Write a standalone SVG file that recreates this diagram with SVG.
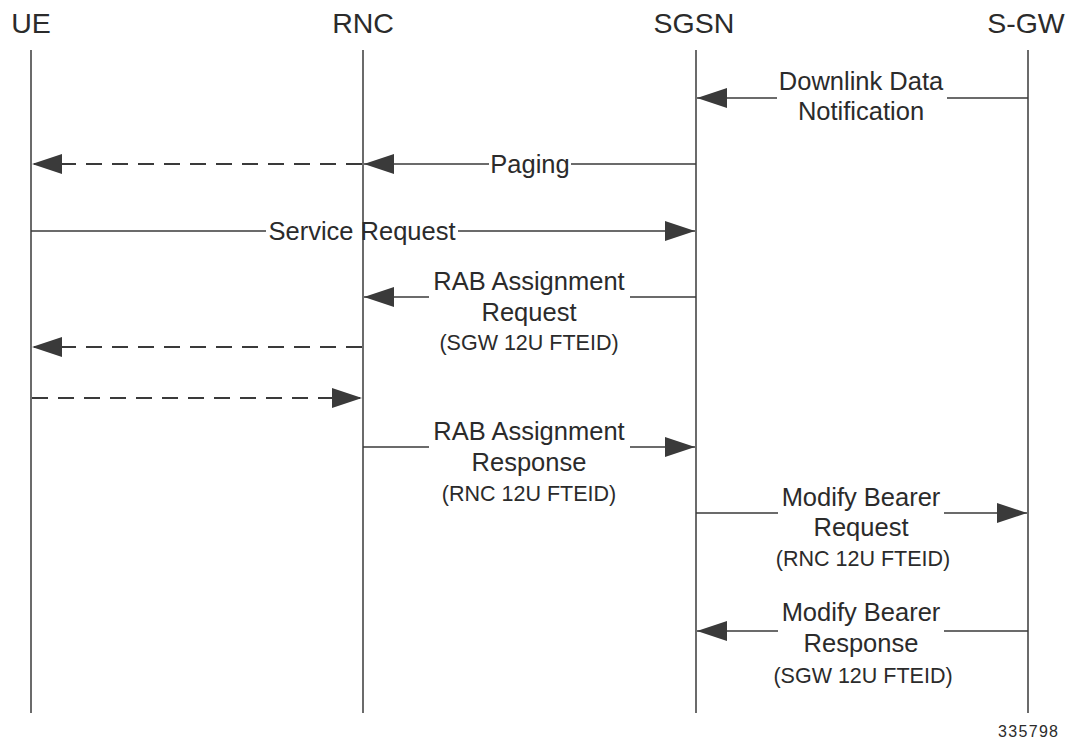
<svg xmlns="http://www.w3.org/2000/svg" width="1077" height="744" viewBox="0 0 1077 744">
<style>
.hdr{font-family:"Liberation Sans",Arial,sans-serif;font-size:28.5px;fill:#2b2b2b;text-anchor:middle}
.lbl{font-family:"Liberation Sans",Arial,sans-serif;font-size:25.5px;fill:#2b2b2b;text-anchor:middle}
.sm{font-family:"Liberation Sans",Arial,sans-serif;font-size:21.5px;fill:#2b2b2b;text-anchor:middle}
.life{stroke:#3a3a3a;stroke-width:1.5;fill:none}
.msg{stroke:#3a3a3a;stroke-width:1.5;fill:none}
.dash{stroke:#3a3a3a;stroke-width:1.8;fill:none;stroke-dasharray:16 10}
.arr{marker-end:url(#ah)}
</style>
<defs>
<marker id="ah" markerUnits="userSpaceOnUse" markerWidth="32" markerHeight="22" refX="31" refY="11" orient="auto">
<path d="M1,1 L31,11 L1,21 z" fill="#3a3a3a"/>
</marker>
</defs>
<rect width="1077" height="744" fill="#ffffff"/>
<g id="ue"><text class="hdr" x="31" y="33">UE</text><line class="life" x1="31" y1="50" x2="31" y2="713"/></g>
<g id="rnc"><text class="hdr" x="363" y="33">RNC</text><line class="life" x1="363" y1="50" x2="363" y2="713"/></g>
<g id="sgsn"><text class="hdr" x="694" y="33">SGSN</text><line class="life" x1="696" y1="50" x2="696" y2="713"/></g>
<g id="sgw"><text class="hdr" x="1026" y="33">S-GW</text><line class="life" x1="1028" y1="50" x2="1028" y2="713"/></g>
<g id="connectors">
<line class="msg" x1="1028" y1="98" x2="947" y2="98"/>
<line class="msg arr" x1="777" y1="98" x2="697" y2="98"/>
<text class="lbl" x="861" y="90">Downlink Data</text>
<text class="lbl" x="861" y="120">Notification</text>

<line class="msg" x1="696" y1="164" x2="571" y2="164"/>
<line class="msg arr" x1="489" y1="164" x2="364" y2="164"/>
<text class="lbl" x="530" y="173">Paging</text>
<line class="dash arr" x1="362" y1="164" x2="32" y2="164"/>

<line class="msg" x1="31" y1="231" x2="266" y2="231"/>
<line class="msg arr" x1="458" y1="231" x2="695" y2="231"/>
<text class="lbl" x="362" y="240">Service Request</text>

<line class="msg" x1="696" y1="297" x2="630" y2="297"/>
<line class="msg arr" x1="429" y1="297" x2="364" y2="297"/>
<text class="lbl" x="529" y="290">RAB Assignment</text>
<text class="lbl" x="529" y="321">Request</text>
<text class="sm" x="529" y="350">(SGW 12U FTEID)</text>

<line class="dash arr" x1="362" y1="347" x2="32" y2="347"/>
<line class="dash arr" x1="32" y1="398" x2="362" y2="398"/>

<line class="msg" x1="363" y1="447" x2="429" y2="447"/>
<line class="msg arr" x1="630" y1="447" x2="695" y2="447"/>
<text class="lbl" x="529" y="440">RAB Assignment</text>
<text class="lbl" x="529" y="471">Response</text>
<text class="sm" x="529" y="501">(RNC 12U FTEID)</text>

<line class="msg" x1="696" y1="513" x2="778" y2="513"/>
<line class="msg arr" x1="944" y1="513" x2="1027" y2="513"/>
<text class="lbl" x="861" y="506">Modify Bearer</text>
<text class="lbl" x="861" y="536">Request</text>
<text class="sm" x="863" y="566">(RNC 12U FTEID)</text>

<line class="msg" x1="1028" y1="631" x2="944" y2="631"/>
<line class="msg arr" x1="778" y1="631" x2="697" y2="631"/>
<text class="lbl" x="861" y="621">Modify Bearer</text>
<text class="lbl" x="861" y="652">Response</text>
<text class="sm" x="863" y="683">(SGW 12U FTEID)</text>
</g>
<text x="1058" y="737" font-family="Liberation Sans,Arial,sans-serif" font-size="16" fill="#2b2b2b" text-anchor="end" textLength="60">335798</text>
</svg>
